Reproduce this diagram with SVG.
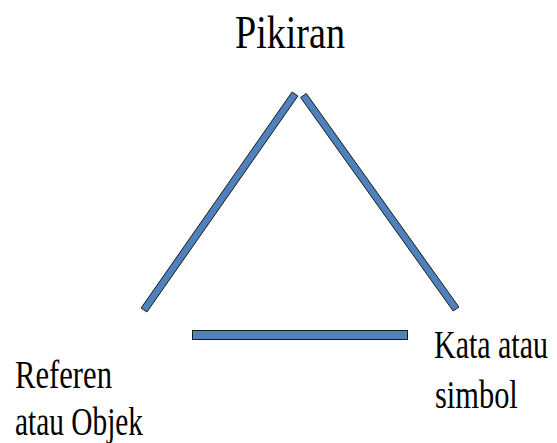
<svg xmlns="http://www.w3.org/2000/svg" width="557" height="443" viewBox="0 0 557 443">
<style>
.bar{fill:#4F81BD;stroke:#1a1a1a;stroke-width:1;stroke-linejoin:miter}
.lbl{font-family:'Liberation Serif','DejaVu Serif',serif;fill:#000}
</style>
<rect width="557" height="443" fill="#fff"/>
<g id="connectors">
<polygon class="bar" points="292.1,92 297.9,96 146.9,312 141.1,308"/>
<polygon class="bar" points="300.6,97.5 306.3,93.5 458.9,307 453.2,311"/>
<rect class="bar" x="192.5" y="330.5" width="215" height="9"/>
</g>
<g id="pikiran">
<text class="lbl" transform="translate(235,48) scale(0.828,1)" font-size="46">Pikiran</text>
</g>
<g id="kata">
<text class="lbl" transform="translate(434,358) scale(0.768,1)" font-size="39">Kata atau</text>
<text class="lbl" transform="translate(435,408) scale(0.78,1)" font-size="39">simbol</text>
</g>
<g id="referen">
<text class="lbl" transform="translate(15,388) scale(0.786,1)" font-size="39">Referen</text>
<text class="lbl" transform="translate(15,435) scale(0.753,1)" font-size="39">atau Objek</text>
</g>
</svg>
